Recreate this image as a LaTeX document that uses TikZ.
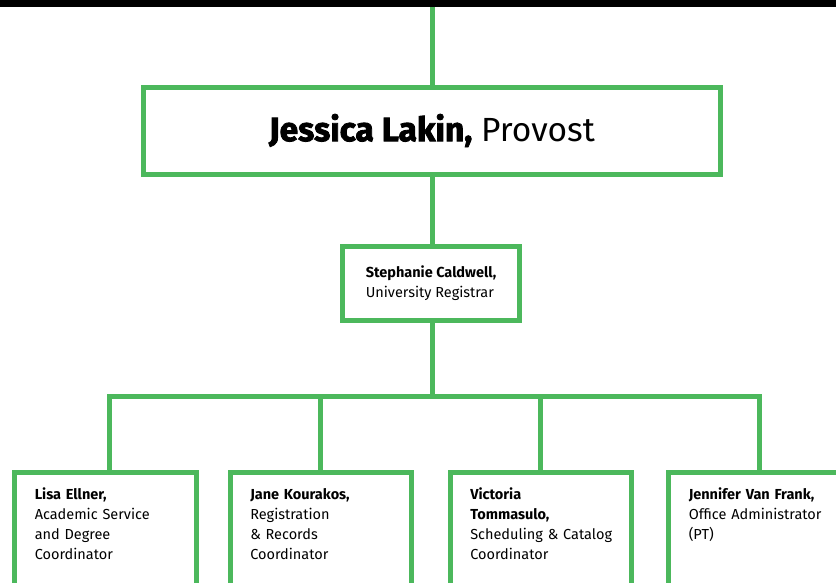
\documentclass[tikz,border=0pt]{standalone}
\usepackage{fontspec}
\setmainfont{Fira Sans}
\newfontfamily\heavyfamily{Fira Sans}[BoldFeatures={FakeBold=2.4}]
\usetikzlibrary{positioning}
\definecolor{orggreen}{RGB}{76,184,92}

\begin{document}
\begin{tikzpicture}[
    x=1pt, y=-1pt,
    every node/.style={font=\fontsize{14.5}{20}\selectfont},
    box/.style={draw=orggreen, line width=5pt, inner sep=0pt},
    staff/.style={box, anchor=north, align=left, text width=141pt,
        inner xsep=20.25pt, inner ysep=15pt, text height=12pt, text depth=110pt},
    link/.style={draw=orggreen, line width=5pt}
]
\useasboundingbox (0,0) rectangle (836,582);
\fill (0,0) rectangle (836,7);

\coordinate (top) at (432,7);
\node[box, minimum width=576.5pt, minimum height=87pt] (provost) at (432,130.5)
    {\fontsize{33.5}{40}\selectfont{\heavyfamily\bfseries Jessica Lakin,} Provost};
\node[box, align=left, minimum width=177.5pt, minimum height=74pt] (registrar) at (431,283.5)
    {\textbf{Stephanie Caldwell,}\\University Registrar};

\coordinate (bus) at (432,396);
\node[staff] (lisa) at (105.25,469.5) {\textbf{Lisa Ellner,}\\Academic Service\\and Degree\\Coordinator};
\node[staff] (jane) at (320.75,469.5) {\textbf{Jane Kourakos,}\\Registration\\\& Records\\Coordinator};
\node[staff] (victoria) at (540.75,469.5) {\textbf{Victoria}\\\textbf{Tommasulo,}\\\mbox{Scheduling \& Catalog}\\Coordinator};
\node[staff] (jennifer) at (759.25,469.5) {\textbf{Jennifer Van Frank,}\\Office Administrator\\(PT)};

\draw[link] (top) -- (provost);
\draw[link] (provost) -- (registrar.north -| provost);
\draw[link] (registrar.south -| bus) -- (bus);
\draw[link, line join=miter] ([xshift=4pt]lisa.north) |- (bus) -| (jennifer.north);
\draw[link] (jane) -- (jane |- bus);
\draw[link] (victoria) -- (victoria |- bus);
\end{tikzpicture}
\end{document}
